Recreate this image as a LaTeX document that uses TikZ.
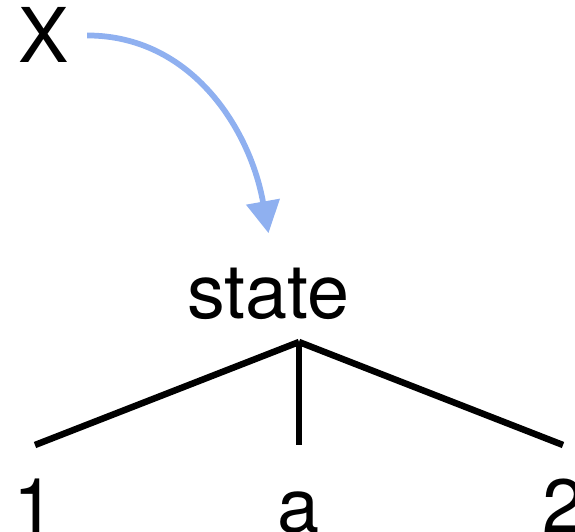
\documentclass[tikz,border=0pt]{standalone}
\usepackage{fontspec}
\setmainfont{TeX Gyre Heros}
\usetikzlibrary{arrows.meta, positioning}

\definecolor{flowblue}{RGB}{143,176,240}

\begin{document}
\begin{tikzpicture}[
    lbl/.style={inner sep=0pt, anchor=base, font=\fontsize{43}{50}\selectfont},
    branch/.style={line width=0.13cm},
    flow/.style={-{Triangle[length=0.64cm, width=0.66cm]}, line width=0.115cm, color=flowblue}
]
\useasboundingbox (0,0) rectangle (11.5,10.62);

% Nodes
\node [lbl] (x) at (0.87,9.36) {X};
\node [lbl] (state) at (5.37,4.26) {state};

\coordinate (root) at (5.98,3.78);
\coordinate (leftleaf) at (0.70,1.72);
\coordinate (midleaf) at (5.98,1.72);
\coordinate (rightleaf) at (11.26,1.72);

\node [lbl] (one) at (0.70,-0.02) {1};
\node [lbl] (a) at (5.98,-0.02) {a};
\node [lbl] (two) at (11.26,-0.02) {2};

% Branches
\draw [branch] (root) -- (leftleaf);
\draw [branch] (root) -- (midleaf);
\draw [branch] (root) -- (rightleaf);

% Arrow
\draw [flow] ([xshift=0.36cm]x.east) to [out=0, in=100] ([yshift=0.68cm]state.north);

\end{tikzpicture}
\end{document}
